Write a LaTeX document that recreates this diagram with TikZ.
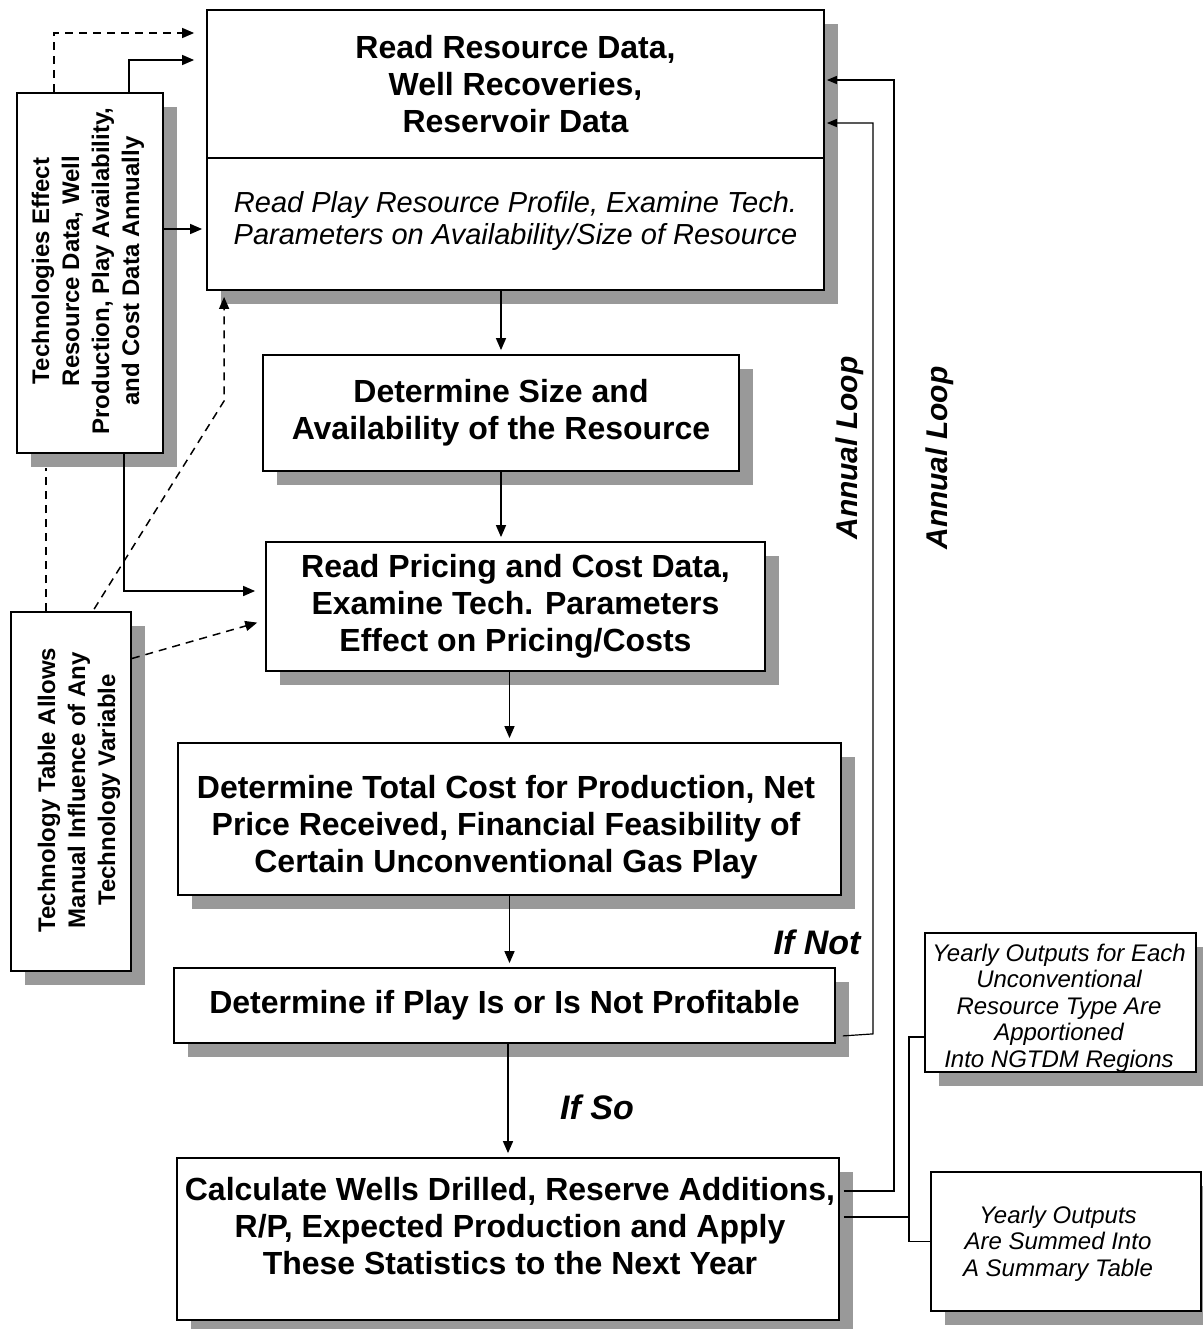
\documentclass[tikz,border=0pt]{standalone}
\usepackage{fontspec}
\setmainfont{Liberation Sans}
\usetikzlibrary{arrows.meta,calc,shadows}
\begin{document}
\begin{tikzpicture}[x=0.5pt,y=-0.5pt,
  box/.style={draw,line width=0.9pt,fill=white,align=center,inner sep=0pt,
    general shadow={fill=gray!80,shadow xshift=7pt,shadow yshift=-7pt}},
  bigtxt/.style={font=\fontsize{16}{18.5}\selectfont\bfseries,align=center,inner sep=0pt},
  ittxt/.style={font=\fontsize{14.5}{16}\selectfont\itshape,align=center,inner sep=0pt},
  sidetxt/.style={font=\fontsize{12}{15}\selectfont\bfseries,align=center,inner sep=0pt,rotate=90},
  outtxt/.style={font=\fontsize{12}{13.3}\selectfont\itshape,align=center,inner sep=0pt},
  looptxt/.style={font=\fontsize{15}{17}\selectfont\bfseries\itshape,inner sep=0pt},
  iftxt/.style={font=\fontsize{17}{19}\selectfont\bfseries\itshape,inner sep=0pt},
  arr/.style={line width=0.75pt,-{Triangle[length=6pt,width=5pt]},shorten >=2pt},
  darr/.style={arr,dash pattern=on 4pt off 3pt},
  loop/.style={line width=0.6pt,-{Triangle[length=5pt,width=4pt]},shorten >=1pt},
  link/.style={line width=0.6pt}
]
\useasboundingbox (0,0) rectangle (1203,1329);

% boxes
\node[box,minimum width=308.5pt,minimum height=140pt] (top) at (515.5,150) {};
\draw[line width=0.9pt] ($(top.west)+(0,8)$) coordinate (dl) -- (dl -| top.east) coordinate (dr);
\node[bigtxt] (toptxt) at (515.5,84) {Read Resource Data,\\Well Recoveries,\\Reservoir Data};
\node[ittxt] (topit) at (515.5,221) {Read Play Resource Profile, Examine Tech.\\Parameters on Availability/Size of Resource};

\node[box,minimum width=73pt,minimum height=180pt] (A) at (90,273) {};
\node[sidetxt] (Atxt) at (88,271) {Technologies Effect\\Resource Data, Well\\Production, Play Availability,\\and Cost Data Annually};

\node[box,minimum width=238pt,minimum height=58pt,font=\fontsize{16}{18.5}\selectfont\bfseries] (B) at (501,413) {Determine Size and\\Availability of the Resource};

\node[box,minimum width=249.5pt,minimum height=64.5pt,font=\fontsize{16}{18.5}\selectfont\bfseries] (C) at (515.5,606.5) {Read Pricing and Cost Data,\\Examine Tech. Parameters\\Effect on Pricing/Costs};

\node[box,minimum width=331.5pt,minimum height=76pt] (D) at (509.5,819) {};
\node[bigtxt] (Dtxt) at (506,827) {Determine Total Cost for Production, Net\\Price Received, Financial Feasibility of\\Certain Unconventional Gas Play};

\node[box,minimum width=330.5pt,minimum height=37.5pt,font=\fontsize{16}{18.5}\selectfont\bfseries] (E) at (504.5,1005.5) {Determine if Play Is or Is Not Profitable};

\node[box,minimum width=331pt,minimum height=81pt] (F) at (508,1239) {};
\node[bigtxt] (Ftxt) at (510,1226) {Calculate Wells Drilled, Reserve Additions,\\R/P, Expected Production and Apply\\These Statistics to the Next Year};

\node[box,minimum width=60pt,minimum height=179.5pt] (G) at (71,791.5) {};
\node[sidetxt] (Gtxt) at (79,790) {Technology Table Allows\\Manual Influence of Any\\Technology Variable};

\node[box,minimum width=135.5pt,minimum height=69.5pt] (H) at (1060.5,1002.5) {};
\node[outtxt] (Htxt) at (1059,1008) {Yearly Outputs for Each\\Unconventional\\Resource Type Are\\Apportioned\\Into NGTDM Regions};

\node[box,minimum width=135pt,minimum height=69.5pt] (I) at (1066,1241.5) {};
\node[outtxt] (Itxt) at (1058,1243.5) {Yearly Outputs\\Are Summed Into\\A Summary Table};

% labels
\node[looptxt,rotate=90] (al1) at (850,448) {Annual Loop};
\node[looptxt,rotate=90] (al2) at (940,458) {Annual Loop};
\node[iftxt] (ifnot) at (817,942) {If Not};
\node[iftxt] (ifso) at (597,1107) {If So};

% main flow
\draw[arr] (top.south -| B.north) -- (B.north);
\draw[arr] (B.south) -- (B.south |- C.north);
\draw[arr] (D.north |- C.south) -- (D.north);
\draw[arr] (D.south) -- (D.south |- E.north);
\draw[arr] (F.north |- E.south) -- (F.north);

% annual loops
\draw[loop] ($(E.south east)+(7,-8)$) -- ($(E.south east)+(37,-10)$) |- ($(top.east)+(0,-27)$);
\draw[loop] ($(F.east)+(4,-48)$) -- ($(F.east)+(54,-48)$) |- ($(top.east)+(0,-70)$);

% outputs
\coordinate (bx) at ($(F.east)+(69,-22)$);
\draw[link] ($(F.east)+(4,-22)$) -- (bx);
\draw[link] ($(H.west)+(0,34.5)$) -| (bx);
\draw[link] (I.west) -| (bx);

% technology connectors
\draw[darr] ($(A.north west)+(38,0)$) |- ($(top.west)+(-8,-117)$);
\draw[arr] ($(A.north west)+(113,0)$) |- ($(top.west)+(-8,-90)$);
\draw[arr] ($(A.east)+(0,-44)$) coordinate (a1) -- (a1 -| top.west);
\draw[arr] ($(A.south west)+(108,0)$) |- ($(C.west)+(-6,-15.5)$);
\draw[line width=0.75pt,dash pattern=on 4pt off 3pt] ($(G.north west)+(36,0)$) -- ($(A.south west)+(30,14)$);
\draw[darr] ($(G.north west)+(84,-2)$) -- ($(top.south west)+(18,110)$) -- ($(top.south west)+(18,2)$);
\draw[darr] ($(G.east)+(0,-133)$) -- ($(C.west)+(-4,15)$);
\end{tikzpicture}
\end{document}
